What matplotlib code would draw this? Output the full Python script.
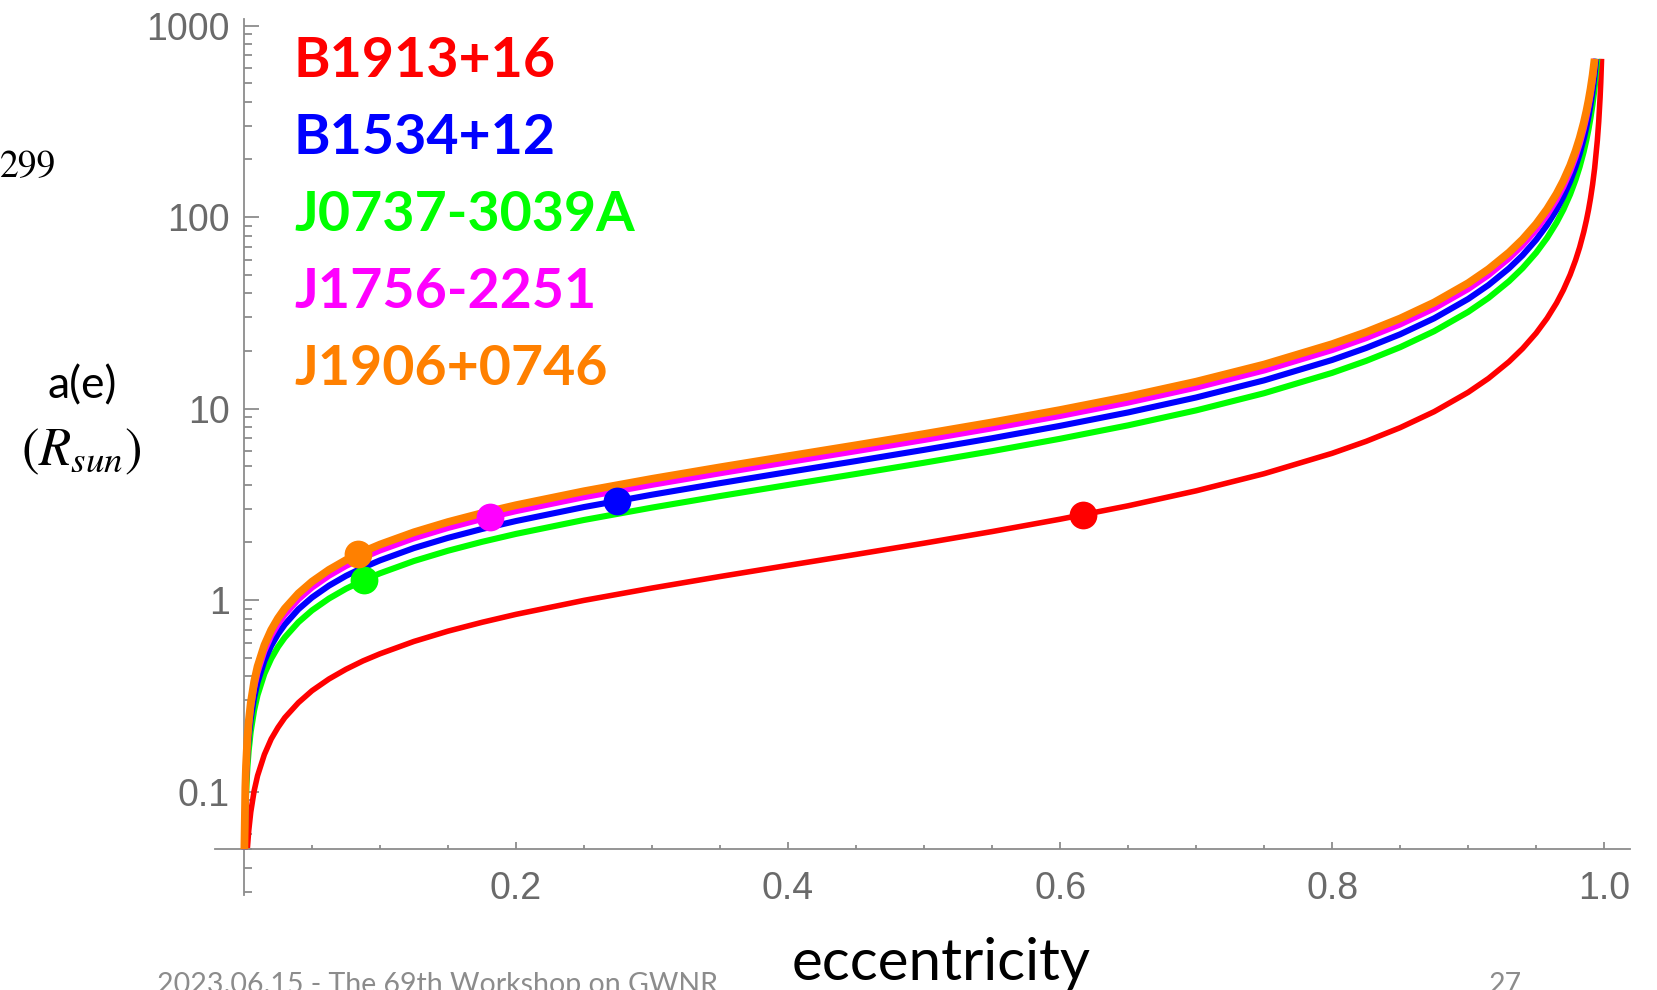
import numpy as np
import matplotlib.pyplot as plt
from matplotlib.ticker import FixedLocator, NullFormatter

# semi-major axis a(e) in R_sun
e_red = [0.00246, 0.0035, 0.005, 0.0075, 0.01, 0.015, 0.02, 0.025, 0.03, 0.04, 0.05, 0.0625, 0.075, 0.0875,
         0.1, 0.125, 0.15, 0.175, 0.2, 0.25, 0.3, 0.35, 0.4, 0.45, 0.5, 0.55, 0.6, 0.65, 0.7, 0.75, 0.8,
         0.825, 0.85, 0.875, 0.9, 0.915, 0.93, 0.94, 0.95, 0.958, 0.965, 0.97, 0.975, 0.979, 0.982, 0.985,
         0.987, 0.9885, 0.99, 0.9915, 0.993, 0.995, 0.996, 0.997, 0.9975, 0.9981]
a_red = [0.05, 0.0624, 0.0782, 0.101, 0.121, 0.156, 0.188, 0.216, 0.243, 0.291, 0.336, 0.387, 0.435, 0.481,
         0.524, 0.608, 0.688, 0.765, 0.842, 0.996, 1.155, 1.327, 1.517, 1.731, 1.981, 2.278, 2.643, 3.105,
         3.717, 4.568, 5.837, 6.740, 7.944, 9.628, 12.15, 14.37, 17.55, 20.55, 24.76, 29.57, 35.56, 41.57,
         49.96, 59.59, 69.56, 83.58, 96.47, 109.1, 125.6, 147.8, 179.6, 251.6, 314.6, 419.5, 503.7, 670]

e_grid = [0.001, 0.0015, 0.0025, 0.0035, 0.005, 0.0075, 0.01, 0.015, 0.02, 0.025, 0.03, 0.04, 0.05, 0.0625,
          0.075, 0.0875, 0.1, 0.125, 0.15, 0.175, 0.2, 0.25, 0.3, 0.35, 0.4, 0.45, 0.5, 0.55, 0.6, 0.65, 0.7,
          0.75, 0.8, 0.825, 0.85, 0.875, 0.9, 0.915, 0.93, 0.94, 0.95, 0.958, 0.965, 0.97, 0.975, 0.979,
          0.982, 0.985, 0.987, 0.9885, 0.99]

e_green = [0.00053] + e_grid + [0.9915, 0.993, 0.995]
a_green = [0.05, 0.0744, 0.0961, 0.133, 0.164, 0.206, 0.266, 0.319, 0.412, 0.494, 0.569, 0.638, 0.766, 0.883,
           1.018, 1.145, 1.265, 1.379, 1.599, 1.809, 2.013, 2.215, 2.619, 3.039, 3.491, 3.990, 4.554, 5.211,
           5.992, 6.953, 8.169, 9.779, 12.02, 15.35, 17.73, 20.90, 25.33, 31.96, 37.81, 46.18, 54.06, 65.13,
           77.78, 93.56, 109.3, 131.4, 156.8, 183.0, 219.9, 253.8, 287.1, 330.3, 388.8, 472.3, 670]

e_blue = [0.00042] + e_grid + [0.9915, 0.993, 0.9941]
a_blue = [0.05, 0.0869, 0.112, 0.155, 0.192, 0.240, 0.310, 0.372, 0.481, 0.577, 0.664, 0.745, 0.895, 1.031,
          1.189, 1.337, 1.477, 1.611, 1.868, 2.112, 2.350, 2.586, 3.059, 3.549, 4.077, 4.660, 5.318, 6.085,
          6.997, 8.120, 9.540, 11.42, 14.03, 17.93, 20.71, 24.41, 29.58, 37.33, 44.16, 53.93, 63.13, 76.06,
          90.83, 109.3, 127.7, 153.5, 183.1, 213.7, 256.8, 296.4, 335.2, 385.7, 454.0, 551.6, 670]

e_magenta = [0.000345] + e_grid + [0.9915, 0.9935]
a_magenta = [0.05, 0.0978, 0.126, 0.175, 0.216, 0.270, 0.349, 0.419, 0.541, 0.650, 0.748, 0.839, 1.007, 1.161,
             1.339, 1.506, 1.663, 1.814, 2.103, 2.379, 2.647, 2.912, 3.444, 3.997, 4.591, 5.248, 5.989, 6.852,
             7.880, 9.144, 10.74, 12.86, 15.80, 20.19, 23.32, 27.48, 33.31, 42.03, 49.73, 60.73, 71.10, 85.65,
             102.3, 123.0, 143.8, 172.8, 206.1, 240.7, 289.1, 333.7, 377.5, 434.4, 511.3, 670]

e_orange = [0.00031] + e_grid + [0.9915, 0.993]
a_orange = [0.05, 0.105, 0.136, 0.188, 0.232, 0.290, 0.375, 0.450, 0.581, 0.698, 0.803, 0.902, 1.082, 1.247,
            1.438, 1.617, 1.787, 1.949, 2.259, 2.555, 2.843, 3.128, 3.700, 4.294, 4.932, 5.637, 6.433, 7.361,
            8.465, 9.823, 11.54, 13.81, 16.97, 21.69, 25.05, 29.52, 35.78, 45.15, 53.42, 65.23, 76.37, 92.00,
            109.9, 132.2, 154.5, 185.7, 221.4, 258.5, 310.6, 358.5, 405.5, 466.6, 549.2, 670]

# observed pulsars (e, a)
names = ['B1913+16', 'B1534+12', 'J0737-3039A', 'J1756-2251', 'J1906+0746']
colors = ['#ff0000', '#0000ff', '#00ff00', '#ff00ff', '#ff8000']
psr_e = [0.617, 0.274, 0.088, 0.181, 0.084]
psr_a = [2.78, 3.29, 1.27, 2.71, 1.74]

W, H = 1658, 990
fig = plt.figure(figsize=(W / 100, H / 100), dpi=100)
# axes box in pixels: left, right, top, bottom
L, R, T, B = 215.4, 1630, 19.5, 894.5
ax = fig.add_axes([L / W, 1 - B / H, (R - L) / W, (B - T) / H])

curves = [(e_red, a_red, '#ff0000', 4.0),
          (e_green, a_green, '#00ff00', 4.4),
          (e_blue, a_blue, '#0000ff', 4.4),
          (e_magenta, a_magenta, '#ff00ff', 4.4),
          (e_orange, a_orange, '#ff8000', 5.6)]
for i, (ex, ay, c, lw) in enumerate(curves):
    ax.plot(ex, ay, color=c, lw=lw, solid_capstyle='butt', solid_joinstyle='round', zorder=2 + i)

for x, y, c in zip(psr_e, psr_a, colors):
    ax.plot(x, y, 'o', color=c, ms=20, mec='none', zorder=10)

ax.set_yscale('log')
ax.set_xlim(-0.021, 1.019)
ax.set_ylim(0.029, 1075)

axcol = '#8c8c8c'
for s in ['top', 'right']:
    ax.spines[s].set_visible(False)
ax.spines['left'].set_position(('data', 0))
ax.spines['bottom'].set_position(('data', 0.05))
for s in ['left', 'bottom']:
    ax.spines[s].set_color(axcol)
    ax.spines[s].set_linewidth(1.3)

ax.xaxis.set_major_locator(FixedLocator([0.2, 0.4, 0.6, 0.8, 1.0]))
ax.xaxis.set_minor_locator(FixedLocator(np.arange(0.05, 1.01, 0.05)))
ax.set_xticklabels(['0.2', '0.4', '0.6', '0.8', '1.0'])
yt = [0.1, 1, 10, 100, 1000]
ax.yaxis.set_major_locator(FixedLocator(yt))
ax.yaxis.set_minor_locator(FixedLocator([m * 10.0 ** k for k in range(-2, 3) for m in range(2, 10)]))
ax.yaxis.set_minor_formatter(NullFormatter())
ax.set_yticklabels(['0.1', '1', '10', '100', '1000'])

ax.tick_params(axis='both', which='both', direction='in', color=axcol, width=1.3,
               labelcolor='#6a6a6a', labelsize=27, labelfontfamily='Liberation Sans')
ax.tick_params(axis='y', which='major', length=10.8, pad=10)
ax.tick_params(axis='y', which='minor', length=5.8)
ax.tick_params(axis='x', which='major', length=5, pad=16)
ax.tick_params(axis='x', which='minor', length=3)
ax.patch.set_visible(False)

# legend as coloured names
for k, (n, c) in enumerate(zip(names, colors)):
    fig.text(294 / W, 1 - (61 + 77 * k) / H, n, color=c, fontsize=40, fontweight='bold',
             family='Lato', ha='left', va='center')

fig.text(82 / W, 1 - 386 / H, 'a(e)', fontsize=32, family='Lato', ha='center', va='center')
fig.text(81 / W, 1 - 451 / H, r'$(R_{sun})$', fontsize=38, ha='center', va='center',
         math_fontfamily='stix')
fig.text(941 / W, 10 / H, 'eccentricity', fontsize=42, family='Lato', ha='center', va='baseline')
fig.text(0, 1 - 168 / H, '299', fontsize=27, family='STIXGeneral', ha='left', va='center')
fig.text(157 / W, -3 / H, '2023.06.15 - The 69th Workshop on GWNR', fontsize=20.5, family='Lato',
         color='#8c8c8c', ha='left', va='baseline')
fig.text(1505 / W, -3 / H, '27', fontsize=20.5, family='Lato', color='#8c8c8c', ha='center', va='baseline')

fig.savefig('out.png', dpi=100)
